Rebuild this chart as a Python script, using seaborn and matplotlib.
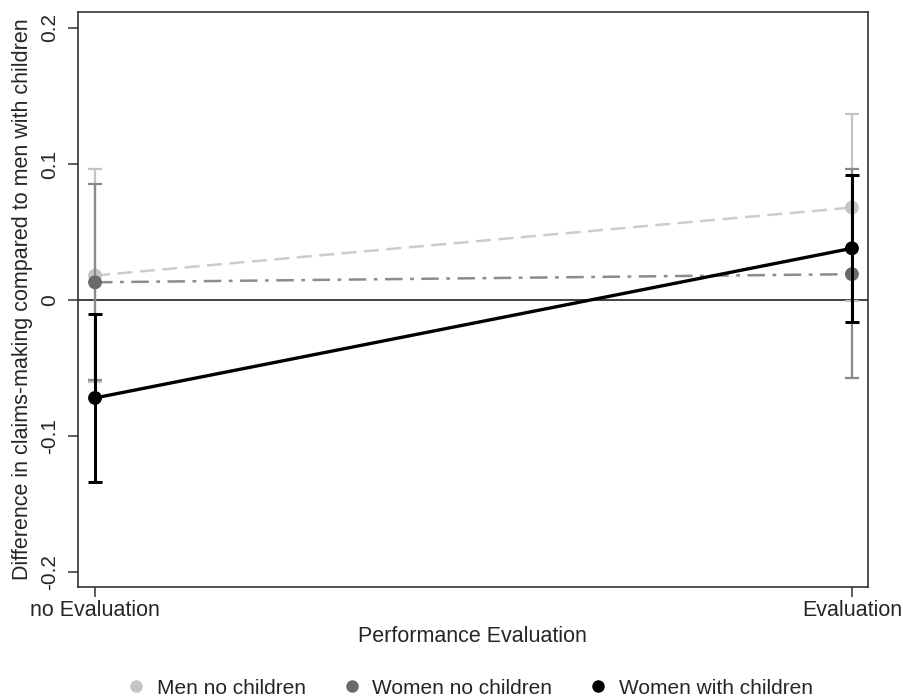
import numpy as np
import pandas as pd
import matplotlib
matplotlib.use("Agg")
import matplotlib.pyplot as plt
import seaborn as sns
from matplotlib.lines import Line2D

# Predicted differences relative to men with children, with 95% CIs
conditions = ["no Evaluation", "Evaluation"]
groups = ["Men no children", "Women no children", "Women with children"]
men_nochild = [0.018, 0.068]
men_nochild_lo = [-0.060, -0.001]
men_nochild_hi = [0.096, 0.137]
women_nochild = [0.013, 0.019]
women_nochild_lo = [-0.059, -0.057]
women_nochild_hi = [0.085, 0.096]
women_child = [-0.072, 0.038]
women_child_lo = [-0.134, -0.016]
women_child_hi = [-0.010, 0.092]

colors = ["#c4c4c4", "#6a6a6a", "#000000"]
err_colors = ["#c4c4c4", "#8a8a8a", "#000000"]
line_colors = ["#cccccc", "#8c8c8c", "#000000"]
dashes = [(6, 3), (7, 3, 1.5, 3), ""]
lws = [1.8, 1.8, 2.4]

rows = []
for g, est, lo, hi in zip(groups,
                          [men_nochild, women_nochild, women_child],
                          [men_nochild_lo, women_nochild_lo, women_child_lo],
                          [men_nochild_hi, women_nochild_hi, women_child_hi]):
    for i, c in enumerate(conditions):
        rows.append({"group": g, "cond": c, "x": i, "est": est[i],
                     "lo": lo[i], "hi": hi[i]})
df = pd.DataFrame(rows)

sns.set_theme(style="white")
plt.rcParams["font.family"] = ["Liberation Sans", "DejaVu Sans"]

fig = plt.figure(figsize=(9.04, 7.0), dpi=100)
ax = fig.add_axes([0.0863, 0.1614, 0.8737, 0.8216])

ax.axhline(0, color="#333333", lw=1.3, zorder=1)

for k, g in enumerate(groups):
    sub = df[df["group"] == g]
    ax.errorbar(sub["x"], sub["est"],
                yerr=[sub["est"] - sub["lo"], sub["hi"] - sub["est"]],
                fmt="none", ecolor=err_colors[k], elinewidth=lws[k] * 0.9,
                capsize=5, capthick=lws[k] * 0.9, zorder=2 + k)
    sns.lineplot(data=sub, x="x", y="est", ax=ax, color=line_colors[k],
                 lw=lws[k], dashes=False, legend=False, zorder=2 + k,
                 linestyle="-" if k == 2 else "--")
    line = ax.lines[-1]
    if dashes[k]:
        line.set_dashes(dashes[k])
    sns.scatterplot(data=sub, x="x", y="est", ax=ax, color=colors[k], s=100,
                    edgecolor="none", legend=False, zorder=3 + k)

ax.set_xlim(-0.0225, 1.021)
ax.set_ylim(-0.211, 0.2118)
ax.set_xticks([0, 1])
ax.set_xticklabels(conditions, fontsize=15.5)
ax.set_yticks([-0.2, -0.1, 0, 0.1, 0.2])
ax.set_yticklabels(["-0.2", "-0.1", "0", "0.1", "0.2"], fontsize=15,
                   rotation=90, va="center")
ax.set_xlabel("Performance Evaluation", fontsize=15.5, labelpad=4)
ax.set_ylabel("Difference in claims-making compared to men with children",
              fontsize=15.5, labelpad=5)
ax.tick_params(axis="both", which="major", direction="out", length=7.2,
               width=1.1, color="#333333", bottom=True, left=True)
ax.tick_params(axis="x", pad=2)
ax.tick_params(axis="y", pad=6.5)
for s in ax.spines.values():
    s.set_color("#333333")
    s.set_linewidth(1.2)

handles = [Line2D([], [], marker="o", linestyle="none", markersize=9,
                  markerfacecolor=c, markeredgecolor="none") for c in colors]
fig.legend(handles, groups, loc="center", bbox_to_anchor=(0.518, 0.017),
           ncol=3, frameon=False, fontsize=15, handlelength=1.2,
           handletextpad=0.4, columnspacing=1.6)

fig.savefig("out.png", dpi=100)
